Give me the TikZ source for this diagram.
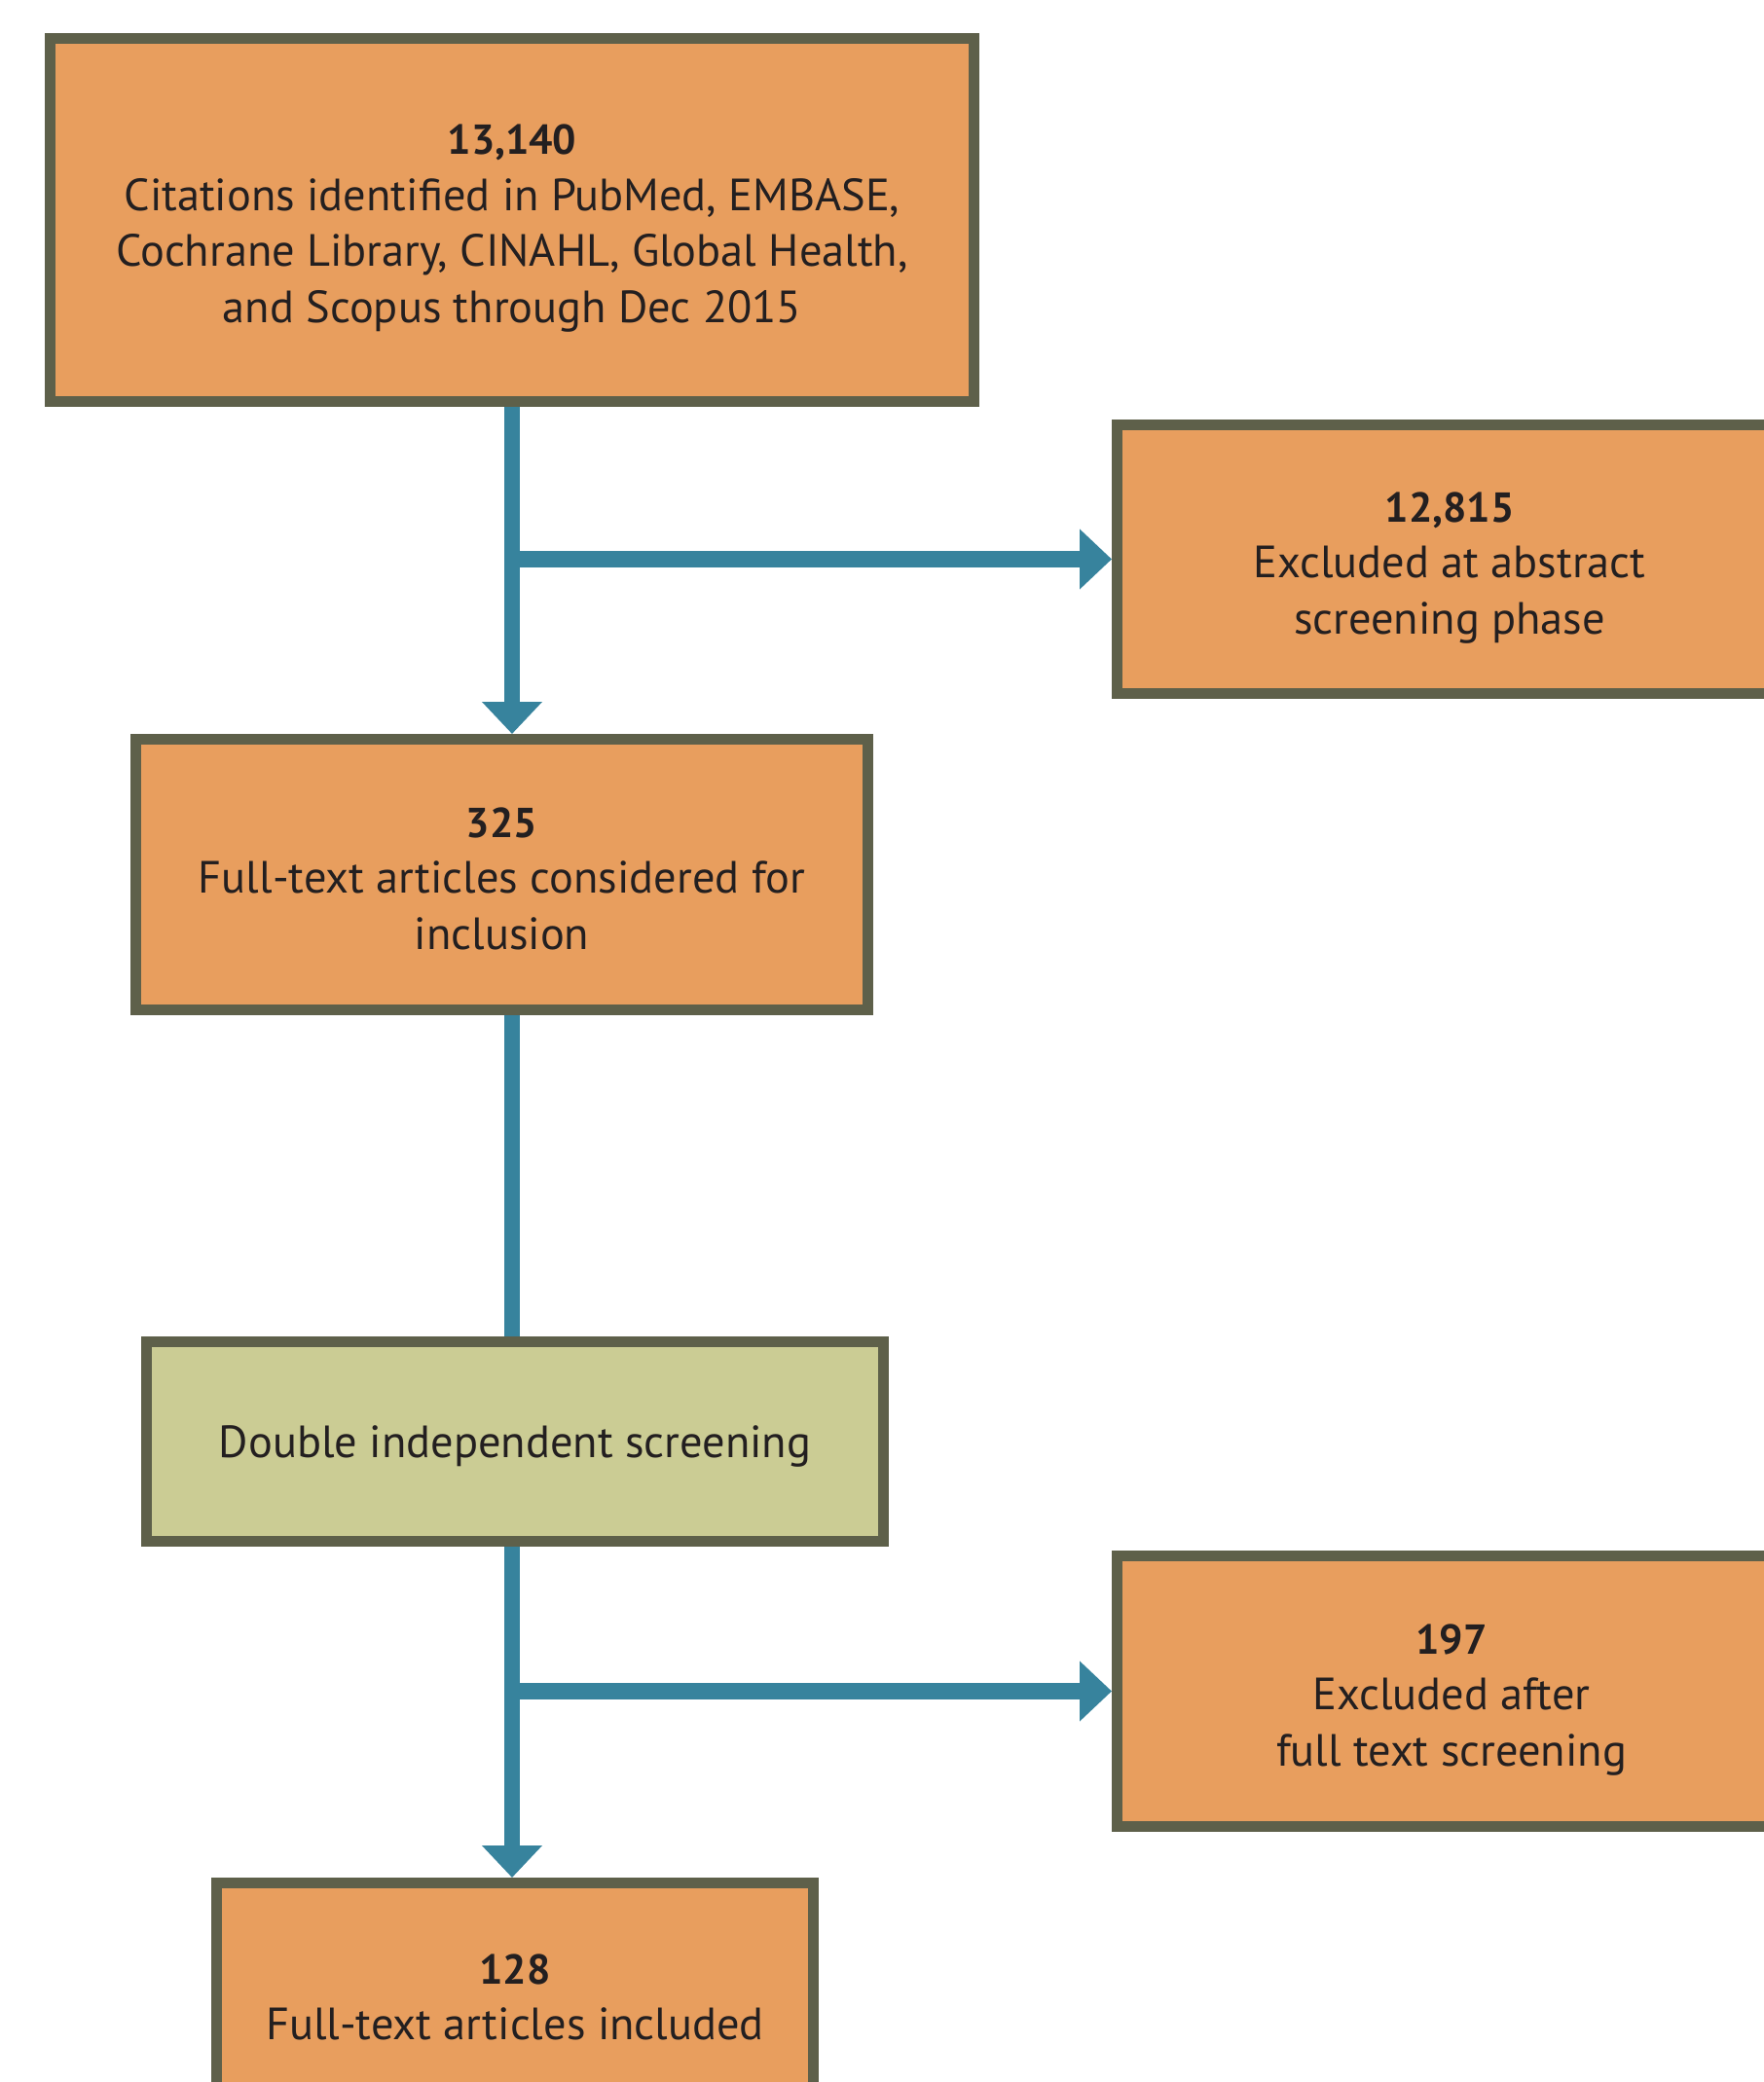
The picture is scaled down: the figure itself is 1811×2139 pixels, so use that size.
\documentclass[tikz,border=0pt]{standalone}
\usepackage{fontspec}
\setmainfont{PT Sans}
\usepackage{xcolor}
\usetikzlibrary{arrows.meta}

\definecolor{boxorange}{HTML}{E89E5E}
\definecolor{boxgreen}{HTML}{CBCC94}
\definecolor{boxborder}{HTML}{5E604A}
\definecolor{flowteal}{HTML}{37839D}
\definecolor{textdark}{HTML}{231F20}

\newcommand{\boxnum}[1]{{\fontsize{21.5pt}{28.75pt}\selectfont\bfseries\rule{0pt}{19pt}#1}}

\begin{document}
\begin{tikzpicture}[x=0.5pt,y=-0.5pt]
\tikzset{every node/.style={text=textdark}}
\tikzset{flowbox/.style={draw=boxborder,line width=5.5pt,fill=boxorange,align=center,inner sep=0pt,text depth=0pt}}
\tikzset{screenbox/.style={flowbox,fill=boxgreen}}
\tikzset{spine/.style={draw=flowteal,line width=8.25pt}}
\tikzset{flow/.style={spine,-{Triangle[length=16.5pt,width=30pt]}}}

\fontsize{23.2pt}{28.75pt}\selectfont

\useasboundingbox (0,0) rectangle (1811,2139);

\node[flowbox,minimum width=474.75pt,minimum height=186.5pt] (cites) at (526,226)
  {\boxnum{13,140}\\Citations identified in PubMed, EMBASE,\\Cochrane Library, CINAHL, Global Health,\\and Scopus through Dec 2015};
\node[flowbox,minimum width=341.5pt,minimum height=138pt] (abstract) at (1489,574.5)
  {\boxnum{12,815}\\Excluded at abstract\\screening phase};
\node[flowbox,minimum width=376.4pt,minimum height=139pt] (considered) at (515.5,898.5)
  {\boxnum{325}\\Full-text articles considered for\\inclusion};
\node[screenbox,minimum width=378.5pt,minimum height=102.5pt] (screen) at (529,1481)
  {Double independent screening};
\node[flowbox,minimum width=343.5pt,minimum height=139pt] (fulltext) at (1491,1737.5)
  {\boxnum{197}\\Excluded after\\full text screening};
\node[flowbox,minimum width=306.5pt,minimum height=113.5pt] (included) at (529,2048)
  {\boxnum{128}\\Full-text articles included};

\draw[flow] (cites.south) -- (cites.south |- considered.north);
\draw[flow] (cites.south |- abstract.west) -- (abstract.west);
\draw[spine] (cites.south |- considered.south) -- (cites.south |- screen.north);
\draw[flow] (cites.south |- screen.south) -- (cites.south |- included.north);
\draw[flow] (cites.south |- fulltext.west) -- (fulltext.west);

\end{tikzpicture}
\end{document}
